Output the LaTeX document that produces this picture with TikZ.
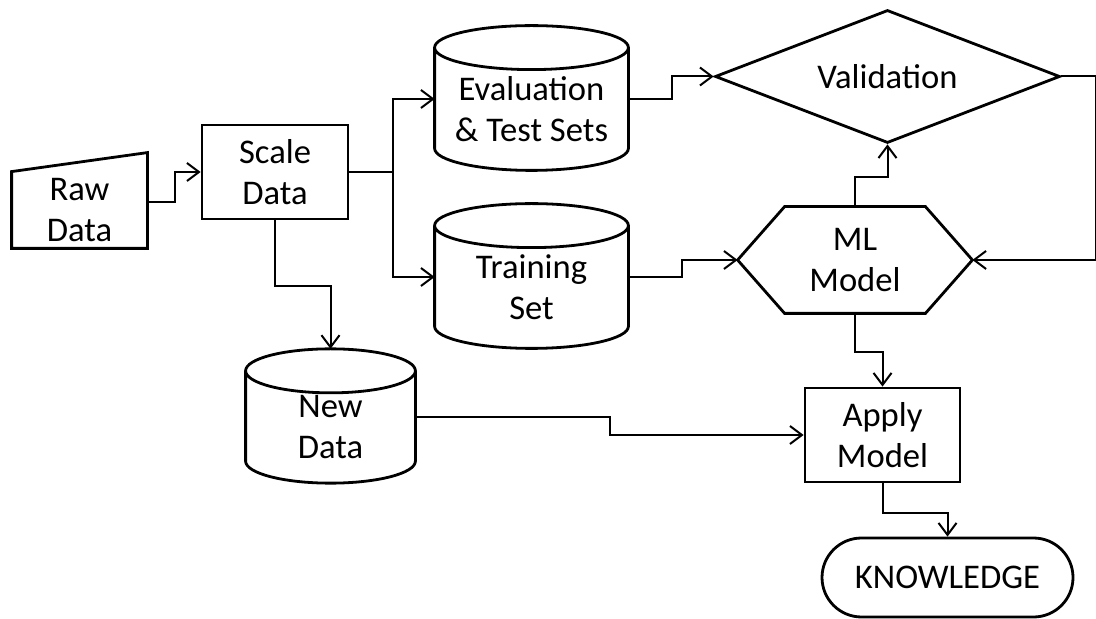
\documentclass[tikz,border=0pt]{standalone}
\usepackage{fontspec}
\setmainfont{Carlito}
\usetikzlibrary{arrows.meta,shapes.geometric,shapes.misc,calc}

\begin{document}
\begin{tikzpicture}[x=0.5pt, y=0.5pt,
  every node/.style={align=center, inner sep=0pt, font=\fontsize{17.3pt}{20.5pt}\selectfont},
  box/.style={draw, rectangle, line width=1.4pt},
  body/.style={rectangle},
  outline/.style={line width=1.4pt, line join=miter},
  flow/.style={line width=1pt, -{Straight Barb[length=6pt,width=9pt]}}]
\useasboundingbox (0,0) rectangle (1096,-619);

\node[body, minimum width=67.5pt, minimum height=38pt] (rawdata) at (79.5,-210) {Raw\\Data};
\node[box, minimum width=73pt, minimum height=47pt] (scaledata) at (275,-172) {Scale\\Data};
\node[body, minimum width=96.5pt, minimum height=61pt] (evalset) at (531.5,-109) {Evaluation\\\& Test Sets};
\node[body, minimum width=96.5pt, minimum height=61pt] (trainset) at (531.5,-287) {Training\\Set};
\node[body, minimum width=84.5pt, minimum height=55.75pt] (newdata) at (330.5,-427) {New\\Data};
\node[diamond, draw, line width=1.4pt, aspect=2.6, minimum width=172.5pt, minimum height=66.5pt] (validation) at (887.5,-76.5) {Validation};
\node[body, minimum width=117pt, minimum height=53pt] (mlmodel) at (855,-260) {ML\\Model};
\node[box, minimum width=77.5pt, minimum height=47pt] (applymodel) at (882.5,-435) {Apply\\Model};
\node[rounded rectangle, draw, line width=1.4pt, minimum width=125.5pt, minimum height=39.5pt] (knowledge) at (947.5,-577.5) {KNOWLEDGE};

\draw[outline] (rawdata.south west) -- (rawdata.south east) -- ([yshift=9.5pt]rawdata.north east) -- (rawdata.north west) -- cycle;
\foreach \c in {evalset,trainset,newdata}
  \draw[outline] let \p1=(\c.north west), \p2=(\c.south east), \n1={(\x2-\x1)/2} in
    (\c.north) ellipse[x radius=\n1, y radius=11pt]
    (\p1) -- (\x1,\y2+11pt) arc[start angle=180, end angle=360, x radius=\n1, y radius=11pt] -- (\x2,\y1);
\draw[outline] ([xshift=23.5pt]mlmodel.north west) -- ([xshift=-23.5pt]mlmodel.north east) -- (mlmodel.east)
  -- ([xshift=-23.5pt]mlmodel.south east) -- ([xshift=23.5pt]mlmodel.south west) -- (mlmodel.west) -- cycle;

\draw[flow] ([yshift=4pt]rawdata.east) -- ++(28,0) |- (scaledata.west);
\draw[flow] (scaledata.east) -- ++(44,0) |- ([yshift=5pt]evalset.west);
\draw[flow] (scaledata.east) -- ++(44,0) |- ([yshift=5pt]trainset.west);
\draw[flow] (scaledata.south) -- ++(0,-66) -| ([yshift=11pt]newdata.north);
\draw[flow] ([yshift=5pt]evalset.east) -- ++(44,0) |- (validation.west);
\draw[flow] ([yshift=5pt]trainset.east) -- ++(54,0) |- (mlmodel.west);
\draw[flow] (mlmodel.north) -- ++(0,30) -| (validation.south);
\draw[flow] (validation.east) -- ++(35,0) |- (mlmodel.east);
\draw[flow] (mlmodel.south) -- ++(0,-39) -| (applymodel.north);
\draw[flow] ([yshift=5pt]newdata.east) -- ++(195,0) |- (applymodel.west);
\draw[flow] (applymodel.south) -- ++(0,-30) -| (knowledge.north);
\end{tikzpicture}
\end{document}
